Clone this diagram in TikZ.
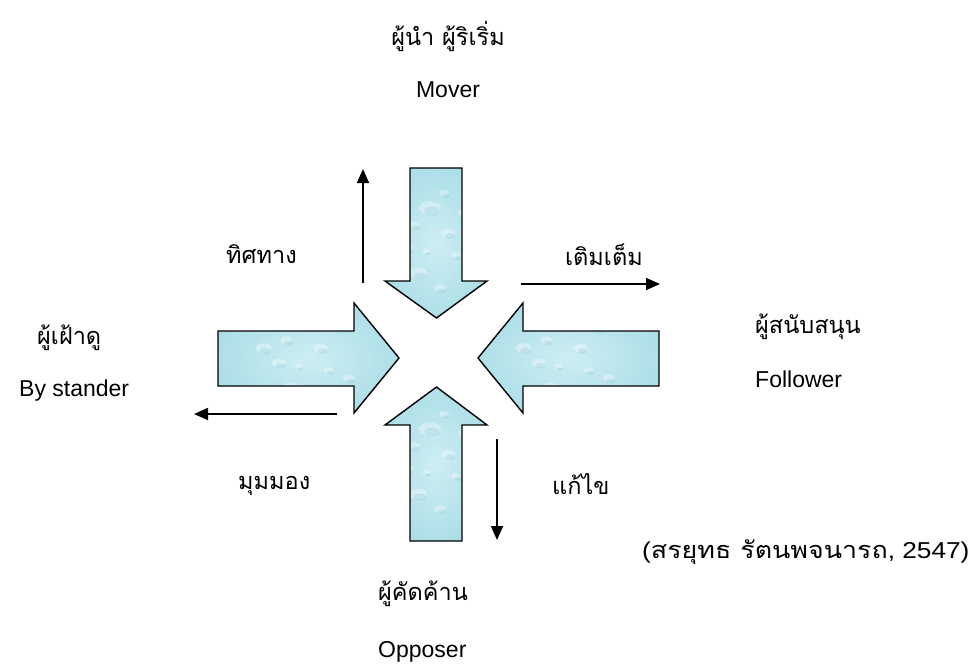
\documentclass[tikz,border=0pt]{standalone}
\usepackage{fontspec}
\usepackage{graphicx}
\setmainfont{Liberation Sans}
\newfontfamily\thai[Script=Thai]{Loma}
\usetikzlibrary{arrows.meta}
\definecolor{waterlight}{HTML}{CDEEF3}
\definecolor{watermid}{HTML}{AEDFE8}
\definecolor{waterdark}{HTML}{8FC9D6}
\tikzset{
  blockarrow/.style={draw=black, line width=1.4pt, line join=miter,
    inner color=waterlight, outer color=watermid,
    path picture={
      \foreach \dx/\dy/\r in {-18/-30/9, 12/10/7, -6/35/11, 20/-12/5, -22/18/6, 4/-45/6, 30/30/8, -30/-5/7, 40/-20/6, -45/10/8, 8/50/5, -10/-8/4}{
        \fill[white, opacity=0.35] ([xshift=\dx pt, yshift=\dy pt]path picture bounding box.center) ellipse ({\r pt} and {0.6*\r pt});
        \fill[waterdark, opacity=0.3] ([xshift=\dx pt+2pt, yshift=\dy pt-3pt]path picture bounding box.center) ellipse ({0.7*\r pt} and {0.4*\r pt});
      }
    }},
  thinarrow/.style={line width=1.8pt, -{Triangle[length=14pt,width=12pt]}},
  latinlbl/.style={font=\fontsize{23}{27}\selectfont, inner sep=0pt},
  thailbl/.style={font=\thai\fontsize{23.5}{27}\selectfont, inner sep=0pt},
}
\begin{document}
\begin{tikzpicture}[x=1pt,y=-1pt]
\useasboundingbox (0,0) rectangle (974,664);
% block arrows
\path[blockarrow] (410,168) -- (462,168) -- (462,281) -- (487,281) -- (436.5,318) -- (385,281) -- (410,281) -- cycle;
\path[blockarrow] (410,541) -- (462,541) -- (462,425) -- (487,425) -- (436.5,387) -- (385,425) -- (410,425) -- cycle;
\path[blockarrow] (218,331) -- (354,331) -- (354,303) -- (399,358) -- (354,413) -- (354,386) -- (218,386) -- cycle;
\path[blockarrow] (659,331) -- (523,331) -- (523,303) -- (478,358) -- (523,413) -- (523,386) -- (659,386) -- cycle;
% thin arrows
\coordinate (ua) at (363,283); \coordinate (ub) at (363,169);
\coordinate (ra) at (521,284); \coordinate (rb) at (660,284);
\coordinate (la) at (337,414); \coordinate (lb) at (194,414);
\coordinate (da) at (497,439); \coordinate (db) at (497,540);
\draw[thinarrow] (ua) -- (ub);
\draw[thinarrow] (ra) -- (rb);
\draw[thinarrow] (la) -- (lb);
\draw[thinarrow] (da) -- (db);
% labels
\node[thailbl] (moverth) at (448,36) {ผู้นำ ผู้ริเริ่ม};
\node[latinlbl, anchor=base] (mover) at (448,97) {Mover};
\node[thailbl, anchor=east] (dir) at (297,254) {ทิศทาง};
\node[thailbl, anchor=west] (fill) at (565,255) {เติมเต็ม};
\node[thailbl, anchor=west] (byth) at (37,338) {ผู้เฝ้าดู};
\node[latinlbl, anchor=base west] (by) at (19,396) {By stander};
\node[thailbl, anchor=west] (folth) at (755,327) {ผู้สนับสนุน};
\node[latinlbl, anchor=base west] (fol) at (755,387) {Follower};
\node[thailbl, anchor=west] (view) at (238,486) {มุมมอง};
\node[thailbl, anchor=west] (fix) at (552,484) {แก้ไข};
\node[thailbl, anchor=west] (oppth) at (378,594) {ผู้คัดค้าน};
\node[latinlbl, anchor=base west] (opp) at (378,657) {Opposer};
\node[font=\fontsize{23}{27}\selectfont, inner sep=0pt, anchor=west] (cite) at (642,552) {\scalebox{1.14}[1]{(\thai\fontsize{23.5}{27}\selectfont สรยุทธ รัตนพจนารถ\normalfont\fontsize{23}{27}\selectfont, 2547)}};
\end{tikzpicture}
\end{document}
